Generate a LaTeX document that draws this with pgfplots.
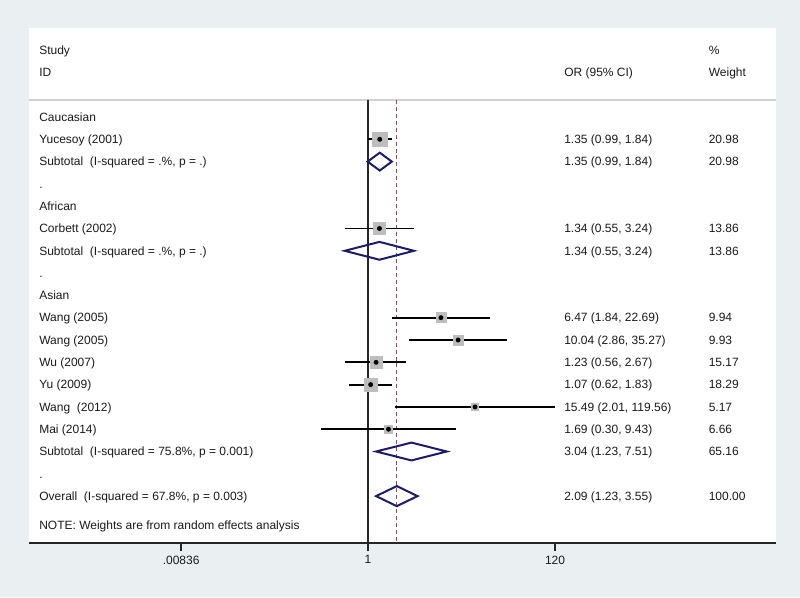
\documentclass[border=0pt]{standalone}
\usepackage{pgfplots}
\usepackage{pgfplotstable}
\pgfplotsset{compat=1.18}
\usepackage{fontspec}
\setmainfont{Liberation Sans}
\definecolor{bgc}{HTML}{EAF0F2}
\definecolor{boxg}{HTML}{BDBDBD}
\definecolor{dia}{HTML}{1C1C6A}
\definecolor{refl}{HTML}{9B4456}
\definecolor{txt}{HTML}{1A1A1A}
\definecolor{hdr}{HTML}{D0D0D0}

\pgfplotstableread{
row or lo hi w
-1 1.35 0.99 1.84 20.98
-5 1.34 0.55 3.24 13.86
-9 6.47 1.84 22.69 9.94
-10 10.04 2.86 35.27 9.93
-11 1.23 0.56 2.67 15.17
-12 1.07 0.62 1.83 18.29
-13 15.49 2.01 119.56 5.17
-14 1.69 0.30 9.43 6.66
}\studies

\begin{document}
\begin{tikzpicture}[
  lab/.style={anchor=base west, font=\fontsize{9}{11}\selectfont, text=txt, inner sep=0pt, yshift=-3.2pt},
  cL/.style={lab, xshift=-246.75pt},
  cO/.style={lab, xshift=147pt},
  cW/.style={lab, xshift=255.4pt},
  ci/.style={black, line width=1.4pt}]
\fill[bgc] (0pt,0pt) rectangle (600pt,-447.75pt);
\begin{axis}[
  at={(21.75pt,-407.25pt)}, anchor=south west,
  scale only axis, width=560.25pt, height=386.25pt,
  xmode=log, xmin=1.7012e-4, xmax=34372,
  ymin=-19.103, ymax=3.991,
  axis background/.style={fill=white},
  axis x line*=bottom, axis y line=none,
  x axis line style={-, line width=1.3pt, color=black!85},
  xtick={0.00836,1,120}, xticklabels={\textrm{.00836},\textrm{1},\textrm{120}},
  xminorticks=false,
  tick align=outside, major tick length=6pt,
  xtick style={line width=1pt, color=black!85},
  xticklabel style={font=\fontsize{9}{11}\selectfont, text=txt},
  ytick=\empty,
  clip=false,
]
% header rule and reference lines
\addplot[hdr, line width=1.2pt] coordinates {(1.7012e-4,0.762) (34372,0.762)};
\addplot[black!85, line width=1pt] coordinates {(1,0.762) (1,-19.103)};
\addplot[refl, line width=0.8pt, dash pattern=on 3pt off 2.2pt] coordinates {(2.09,0.762) (2.09,-19.103)};

% weight boxes
\addplot[scatter, only marks, mark=square*,
  scatter/use mapped color={draw=boxg, fill=boxg},
  visualization depends on={\thisrow{w} \as \wt},
  scatter/@pre marker code/.append style={/tikz/mark size={1.2*sqrt(\wt)}}]
  table[x=or, y=row] \studies;

% confidence intervals
\addplot[ci] coordinates {(0.99,-1) (1.84,-1)};
\addplot[ci] coordinates {(0.55,-5) (3.24,-5)};
\addplot[ci] coordinates {(1.84,-9) (22.69,-9)};
\addplot[ci] coordinates {(2.86,-10) (35.27,-10)};
\addplot[ci] coordinates {(0.56,-11) (2.67,-11)};
\addplot[ci] coordinates {(0.62,-12) (1.83,-12)};
\addplot[ci] coordinates {(2.01,-13) (119.56,-13)};
\addplot[ci] coordinates {(0.30,-14) (9.43,-14)};

% point estimates
\addplot[only marks, mark=*, mark size=1.6pt, black] table[x=or, y=row] \studies;

% pooled diamonds
\addplot[dia, line width=1.5pt, line join=miter] coordinates {(0.99,-2) (1.35,-1.6) (1.84,-2) (1.35,-2.4)} -- cycle;
\addplot[dia, line width=1.5pt, line join=miter] coordinates {(0.55,-6) (1.34,-5.6) (3.24,-6) (1.34,-6.4)} -- cycle;
\addplot[dia, line width=1.5pt, line join=miter] coordinates {(1.23,-15) (3.04,-14.6) (7.51,-15) (3.04,-15.4)} -- cycle;
\addplot[dia, line width=1.5pt, line join=miter] coordinates {(1.23,-17) (2.09,-16.55) (3.55,-17) (2.09,-17.45)} -- cycle;

% text columns
\node[cL] at (axis cs:1,3) {Study};
\node[cL] at (axis cs:1,2) {ID};
\node[cO] at (axis cs:1,2) {OR (95\% CI)};
\node[cW] at (axis cs:1,3) {\%};
\node[cW] at (axis cs:1,2) {Weight};

\node[cL] at (axis cs:1,0) {Caucasian};
\node[cL] at (axis cs:1,-1) {Yucesoy (2001)};
\node[cO] at (axis cs:1,-1) {1.35 (0.99, 1.84)};
\node[cW] at (axis cs:1,-1) {20.98};
\node[cL] at (axis cs:1,-2) {Subtotal\ \ (I-squared = .\%, p = .)};
\node[cO] at (axis cs:1,-2) {1.35 (0.99, 1.84)};
\node[cW] at (axis cs:1,-2) {20.98};
\node[cL] at (axis cs:1,-3) {.};

\node[cL] at (axis cs:1,-4) {African};
\node[cL] at (axis cs:1,-5) {Corbett (2002)};
\node[cO] at (axis cs:1,-5) {1.34 (0.55, 3.24)};
\node[cW] at (axis cs:1,-5) {13.86};
\node[cL] at (axis cs:1,-6) {Subtotal\ \ (I-squared = .\%, p = .)};
\node[cO] at (axis cs:1,-6) {1.34 (0.55, 3.24)};
\node[cW] at (axis cs:1,-6) {13.86};
\node[cL] at (axis cs:1,-7) {.};

\node[cL] at (axis cs:1,-8) {Asian};
\node[cL] at (axis cs:1,-9) {Wang (2005)};
\node[cO] at (axis cs:1,-9) {6.47 (1.84, 22.69)};
\node[cW] at (axis cs:1,-9) {9.94};
\node[cL] at (axis cs:1,-10) {Wang (2005)};
\node[cO] at (axis cs:1,-10) {10.04 (2.86, 35.27)};
\node[cW] at (axis cs:1,-10) {9.93};
\node[cL] at (axis cs:1,-11) {Wu (2007)};
\node[cO] at (axis cs:1,-11) {1.23 (0.56, 2.67)};
\node[cW] at (axis cs:1,-11) {15.17};
\node[cL] at (axis cs:1,-12) {Yu (2009)};
\node[cO] at (axis cs:1,-12) {1.07 (0.62, 1.83)};
\node[cW] at (axis cs:1,-12) {18.29};
\node[cL] at (axis cs:1,-13) {Wang\ \ (2012)};
\node[cO] at (axis cs:1,-13) {15.49 (2.01, 119.56)};
\node[cW] at (axis cs:1,-13) {5.17};
\node[cL] at (axis cs:1,-14) {Mai (2014)};
\node[cO] at (axis cs:1,-14) {1.69 (0.30, 9.43)};
\node[cW] at (axis cs:1,-14) {6.66};
\node[cL] at (axis cs:1,-15) {Subtotal\ \ (I-squared = 75.8\%, p = 0.001)};
\node[cO] at (axis cs:1,-15) {3.04 (1.23, 7.51)};
\node[cW] at (axis cs:1,-15) {65.16};
\node[cL] at (axis cs:1,-16) {.};

\node[cL] at (axis cs:1,-17) {Overall\ \ (I-squared = 67.8\%, p = 0.003)};
\node[cO] at (axis cs:1,-17) {2.09 (1.23, 3.55)};
\node[cW] at (axis cs:1,-17) {100.00};

\node[cL] at (axis cs:1,-18.3) {NOTE: Weights are from random effects analysis};
\end{axis}
\pgfresetboundingbox
\path (0pt,0pt) rectangle (600pt,-447.75pt);
\end{tikzpicture}
\end{document}
